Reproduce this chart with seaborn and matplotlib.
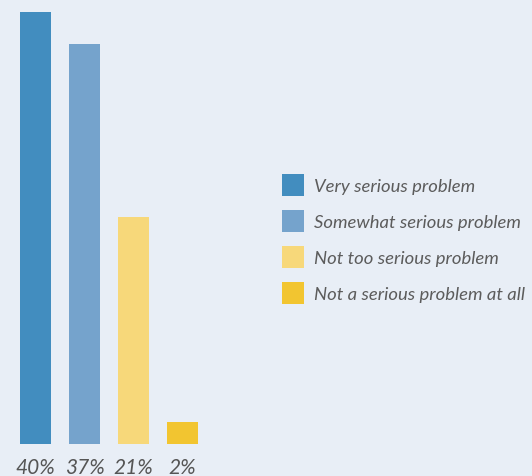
import matplotlib
matplotlib.use("Agg")
import matplotlib.pyplot as plt
from matplotlib.patches import Rectangle
import seaborn as sns
import pandas as pd

categories = ["Very serious problem", "Somewhat serious problem",
              "Not too serious problem", "Not a serious problem at all"]
values = [40, 37, 21, 2]
value_labels = ["40%", "37%", "21%", "2%"]
colors = ["#428dbf", "#75a3cc", "#f7d87a", "#f2c530"]

BG = "#e8eef6"
TEXT = "#5c5c5c"

sns.set_theme(style="white")
plt.rcParams["font.family"] = ["Lato", "DejaVu Sans"]

W, H = 532, 477
fig = plt.figure(figsize=(W / 100, H / 100), dpi=100, facecolor=BG)

# axes placed in pixel units: bars 31 px wide on a 49 px pitch, 10.8 px per point
left_px, bottom_px = 11, 32
ax = fig.add_axes([left_px / W, bottom_px / H, 196 / W, 432 / H])
ax.set_facecolor(BG)

df = pd.DataFrame({"category": categories, "value": values})
sns.barplot(data=df, x="category", y="value", hue="category",
            palette=colors, order=categories, hue_order=categories,
            width=31 / 49, dodge=False, legend=False, saturation=1,
            linewidth=0, edgecolor="none", ax=ax)

ax.set_xlim(-0.5, 3.5)
ax.set_ylim(0, 40)
ax.set_xlabel("")
ax.set_ylabel("")
ax.set_xticks([])
ax.set_yticks([])
for s in ax.spines.values():
    s.set_visible(False)

# value labels under each bar
for i, lab in enumerate(value_labels):
    ax.annotate(lab, xy=(i, 0), xytext=(0, -23), textcoords="offset pixels",
                ha="center", va="center", fontsize=15, fontstyle="italic",
                color="#555555", annotation_clip=False)

# legend: colour squares with italic labels
sq = 22
for i, (cat, col) in enumerate(zip(categories, colors)):
    top = 175 + i * 36
    fig.patches.append(Rectangle((282 / W, 1 - (top + sq) / H), sq / W, sq / H,
                                 transform=fig.transFigure, facecolor=col,
                                 edgecolor="none"))
    fig.text(314 / W, 1 - (top + sq / 2 + 1) / H, cat, ha="left", va="center",
             fontsize=13.3, fontstyle="italic", color=TEXT)

fig.savefig("out.png", dpi=100, facecolor=BG)
